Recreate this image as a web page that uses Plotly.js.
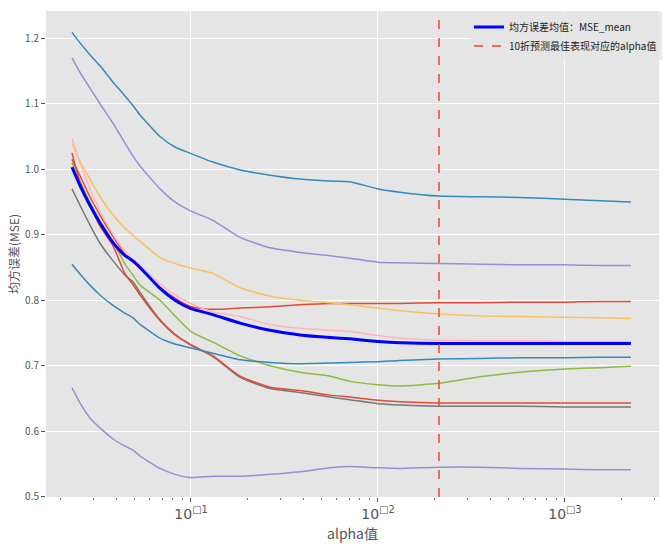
<!DOCTYPE html>
<html>
<head>
<meta charset="utf-8">
<script src="https://cdn.plot.ly/plotly-3.0.1.min.js"></script>
<style>html,body{margin:0;padding:0;background:#fff;overflow:hidden;}#chart{width:669px;height:550px;}</style>
</head>
<body>
<div id="chart"></div>
<script>
// alpha values (x axis, log scale)
var alphas = [2.31, 2.55, 2.88, 3.26, 3.83, 4.44, 4.90, 5.34, 6.83, 8.21, 10.0, 13.1, 18.3, 26.5, 38.3, 55.4, 70.8, 100, 131, 212, 351, 575, 1000, 1539, 2254];

// MSE per fold (10 folds)
var fold1 = [1.015, 0.990, 0.958, 0.930, 0.897, 0.870, 0.858, 0.848, 0.820, 0.803, 0.790, 0.786, 0.788, 0.790, 0.793, 0.795, 0.795, 0.795, 0.795, 0.796, 0.796, 0.797, 0.797, 0.798, 0.798];
var fold2 = [1.209, 1.193, 1.175, 1.158, 1.133, 1.112, 1.097, 1.083, 1.050, 1.034, 1.024, 1.011, 0.999, 0.991, 0.985, 0.982, 0.981, 0.970, 0.965, 0.959, 0.958, 0.957, 0.954, 0.952, 0.950];
var fold3 = [1.170, 1.148, 1.124, 1.100, 1.070, 1.040, 1.020, 1.005, 0.970, 0.950, 0.936, 0.922, 0.896, 0.880, 0.873, 0.868, 0.864, 0.858, 0.857, 0.856, 0.855, 0.854, 0.854, 0.853, 0.853];
var fold4 = [0.970, 0.945, 0.915, 0.887, 0.860, 0.838, 0.828, 0.812, 0.770, 0.748, 0.731, 0.714, 0.682, 0.665, 0.659, 0.652, 0.648, 0.642, 0.640, 0.638, 0.638, 0.638, 0.637, 0.637, 0.637];
var fold5 = [1.039, 1.012, 0.985, 0.958, 0.930, 0.910, 0.899, 0.890, 0.865, 0.856, 0.849, 0.841, 0.819, 0.806, 0.800, 0.796, 0.793, 0.788, 0.784, 0.779, 0.776, 0.775, 0.774, 0.773, 0.772];
var fold6 = [1.010, 0.982, 0.950, 0.922, 0.890, 0.855, 0.838, 0.823, 0.800, 0.776, 0.752, 0.736, 0.715, 0.700, 0.690, 0.684, 0.676, 0.671, 0.669, 0.673, 0.683, 0.690, 0.695, 0.697, 0.699];
var fold7 = [1.047, 1.010, 0.970, 0.937, 0.900, 0.875, 0.862, 0.852, 0.825, 0.808, 0.795, 0.782, 0.775, 0.763, 0.757, 0.754, 0.752, 0.746, 0.742, 0.739, 0.738, 0.738, 0.737, 0.737, 0.737];
var fold8 = [1.025, 0.980, 0.945, 0.913, 0.883, 0.840, 0.824, 0.808, 0.769, 0.747, 0.732, 0.715, 0.684, 0.667, 0.662, 0.655, 0.652, 0.647, 0.645, 0.643, 0.643, 0.643, 0.643, 0.643, 0.643];
var fold9 = [0.855, 0.840, 0.823, 0.808, 0.792, 0.780, 0.773, 0.763, 0.742, 0.733, 0.727, 0.719, 0.709, 0.705, 0.703, 0.704, 0.705, 0.706, 0.708, 0.710, 0.711, 0.712, 0.712, 0.713, 0.713];
var fold10 = [0.666, 0.643, 0.620, 0.605, 0.588, 0.577, 0.571, 0.562, 0.543, 0.534, 0.529, 0.531, 0.531, 0.534, 0.538, 0.544, 0.546, 0.544, 0.543, 0.545, 0.545, 0.543, 0.542, 0.541, 0.541];

// mean MSE across folds
var mseMean = [1.003, 0.975, 0.945, 0.918, 0.888, 0.868, 0.860, 0.850, 0.818, 0.800, 0.787, 0.778, 0.765, 0.754, 0.747, 0.743, 0.741, 0.737, 0.735, 0.734, 0.734, 0.734, 0.734, 0.734, 0.734];

// best alpha from 10-fold CV
var bestAlpha = 212;

var folds = [fold1, fold2, fold3, fold4, fold5, fold6, fold7, fold8, fold9, fold10];
var foldColors = ['#E24A33', '#348ABD', '#988ED5', '#777777', '#FBC15E', '#8EBA42', '#FFB5B8', '#E24A33', '#348ABD', '#988ED5'];

var meanLabel = '均方误差均值：MSE_mean';
var bestLabel = '10折预测最佳表现对应的alpha值';
var xTickVals = [10, 100, 1000];
var xTickText = ['10<sup>\u25A11</sup>', '10<sup>\u25A12</sup>', '10<sup>\u25A13</sup>'];
var yRange = [0.4994, 1.2417];

var minorVals = [];
for (var k = 0; k <= 3; k++) {
  for (var m = 2; m <= 9; m++) minorVals.push(m * Math.pow(10, k));
}

var font = '"Noto Sans CJK SC", "DejaVu Sans", sans-serif';

var traces = [];
folds.forEach(function (f, i) {
  traces.push({
    x: alphas, y: f, type: 'scatter', mode: 'lines',
    line: {color: foldColors[i], width: 1.5, shape: 'spline', smoothing: 0.5},
    showlegend: false, hoverinfo: 'skip'
  });
});
traces.push({
  x: alphas, y: mseMean, type: 'scatter', mode: 'lines', name: meanLabel,
  line: {color: '#0000FF', width: 3, shape: 'spline', smoothing: 0.5}
});
traces.push({
  x: [bestAlpha, bestAlpha], y: yRange, type: 'scatter', mode: 'lines', name: bestLabel,
  line: {color: '#E24A33', width: 1.5, dash: 'dash'}
});

var layout = {
  width: 669, height: 550,
  margin: {l: 46, r: 7, t: 11, b: 53},
  paper_bgcolor: '#FFFFFF',
  plot_bgcolor: '#E5E5E5',
  font: {family: font, color: '#555555'},
  showlegend: true,
  legend: {
    x: 0.69, y: 0.997, xanchor: 'left', yanchor: 'top',
    bgcolor: 'rgba(229,229,229,0.85)', borderwidth: 0,
    font: {family: font, size: 10, color: '#222222'},
    tracegroupgap: 0
  },
  xaxis: {
    type: 'log',
    range: [0.2246, 3.503],
    tickmode: 'array', tickvals: xTickVals, ticktext: xTickText,
    tickfont: {family: '"DejaVu Sans", sans-serif', size: 14, color: '#555555'},
    ticks: 'outside', ticklen: 4, tickcolor: '#555555', tickwidth: 1,
    showgrid: true, gridcolor: '#FFFFFF', gridwidth: 1,
    zeroline: false, showline: false, automargin: false,
    minor: {tickmode: 'array', tickvals: minorVals, ticks: 'outside', ticklen: 2, tickcolor: '#555555', tickwidth: 0.8, showgrid: false},
    title: {text: 'alpha值', font: {family: font, size: 14, color: '#555555'}, standoff: 8}
  },
  yaxis: {
    range: yRange,
    tickmode: 'linear', tick0: 0.5, dtick: 0.1, tickformat: '.1f',
    tickfont: {family: font, size: 10, color: '#555555'},
    ticks: 'outside', ticklen: 4, tickcolor: '#555555', tickwidth: 1,
    showgrid: true, gridcolor: '#FFFFFF', gridwidth: 1,
    zeroline: false, showline: false, automargin: false,
    title: {text: '均方误差(MSE)', font: {family: font, size: 12, color: '#555555'}, standoff: 2}
  }
};

Plotly.newPlot('chart', traces, layout, {staticPlot: true, displayModeBar: false});
</script>
</body>
</html>
